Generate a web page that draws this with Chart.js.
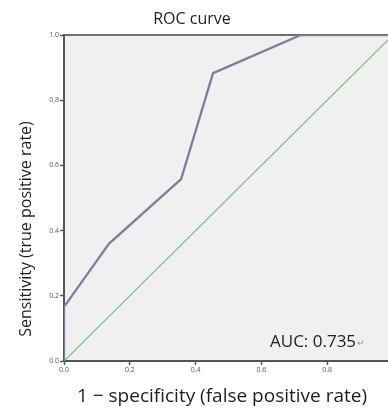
<!DOCTYPE html>
<html>
<head>
<meta charset="utf-8">
<script src="https://cdn.jsdelivr.net/npm/chart.js@4"></script>
<style>
  html, body { margin: 0; padding: 0; background: #fff; overflow: hidden; }
  #wrap { position: relative; width: 400px; height: 414px; }
</style>
</head>
<body>
<div id="wrap"><canvas id="rocChart"></canvas></div>
<script>
// ROC curve points
const fpr = [0, 0, 0.137, 0.356, 0.453, 0.72, 1.0];
const tpr = [0, 0.166, 0.36, 0.558, 0.883, 1.0, 1.0];
// chance line
const refX = [0, 1];
const refY = [0, 1];
const tickValues = [0, 0.2, 0.4, 0.6, 0.8, 1.0];
const aucLabel = 'AUC: 0.735';

const FONT = '"Open Sans", "Noto Sans", sans-serif';

// background, frame and texts
const decorPlugin = {
    id: 'decor',
    beforeDraw(chart) {
        const { ctx, chartArea: a } = chart;
        ctx.save();
        ctx.fillStyle = '#f0f0f0';
        ctx.fillRect(a.left, a.top, a.right - a.left, a.bottom - a.top);
        ctx.strokeStyle = '#707070';
        ctx.lineWidth = 2;
        ctx.beginPath();
        ctx.moveTo(a.left, a.top);
        ctx.lineTo(a.right, a.top);
        ctx.lineTo(a.right, a.bottom);
        ctx.stroke();
        ctx.restore();
    },
    afterDraw(chart) {
        const { ctx } = chart;
        ctx.save();
        ctx.fillStyle = '#1e1e1e';
        ctx.textAlign = 'center';
        ctx.textBaseline = 'middle';
        ctx.font = '16px ' + FONT;
        ctx.fillText('ROC curve', 192, 19);

        ctx.font = '19px ' + FONT;
        ctx.fillText('1 \u2212 specificity (false positive rate)', 222, 397);

        ctx.save();
        ctx.translate(26, 229);
        ctx.rotate(-Math.PI / 2);
        ctx.font = '16px ' + FONT;
        ctx.fillText('Sensitivity (true positive rate)', 0, 0);
        ctx.restore();

        ctx.textAlign = 'left';
        ctx.font = '17px ' + FONT;
        ctx.fillText(aucLabel, 270, 342);
        const w = ctx.measureText(aucLabel).width;
        ctx.fillStyle = '#999';
        ctx.font = '9px ' + FONT;
        ctx.fillText('\u21B5', 270 + w + 1, 343);
        ctx.restore();
    }
};

new Chart(document.getElementById('rocChart'), {
    type: 'scatter',
    data: {
        datasets: [{
            data: fpr.map((x, i) => ({ x: x, y: tpr[i] })),
            showLine: true,
            borderColor: '#7a7f9e',
            borderWidth: 2.3,
            pointRadius: 0,
            tension: 0
        }, {
            data: refX.map((x, i) => ({ x: x, y: refY[i] })),
            showLine: true,
            borderColor: '#6cc46c',
            borderWidth: 1.2,
            pointRadius: 0,
            tension: 0
        }]
    },
    options: {
        responsive: true,
        maintainAspectRatio: false,
        animation: false,
        layout: { padding: { top: 35, right: 7, left: 0, bottom: 0 } },
        plugins: {
            legend: { display: false },
            tooltip: { enabled: false }
        },
        scales: {
            x: {
                type: 'linear',
                min: 0,
                max: 1,
                afterBuildTicks: (s) => { s.ticks = tickValues.map(v => ({ value: v })); },
                afterFit: (s) => { s.height = 53; },
                ticks: {
                    color: '#555',
                    font: { size: 7, family: FONT },
                    padding: 1,
                    maxRotation: 0,
                    callback: (v) => v.toFixed(1)
                },
                grid: { drawOnChartArea: false, drawTicks: true, tickLength: 4, tickColor: '#555', tickWidth: 1.5 },
                border: { color: '#555', width: 2 }
            },
            y: {
                type: 'linear',
                min: 0,
                max: 1,
                afterBuildTicks: (s) => { s.ticks = tickValues.map(v => ({ value: v })); },
                afterFit: (s) => { s.width = 64; },
                ticks: {
                    color: '#555',
                    font: { size: 7, family: FONT },
                    padding: 1,
                    callback: (v) => v.toFixed(1)
                },
                grid: { drawOnChartArea: false, drawTicks: true, tickLength: 4, tickColor: '#555', tickWidth: 1.5 },
                border: { color: '#555', width: 2 }
            }
        }
    },
    plugins: [decorPlugin]
});
</script>
</body>
</html>
